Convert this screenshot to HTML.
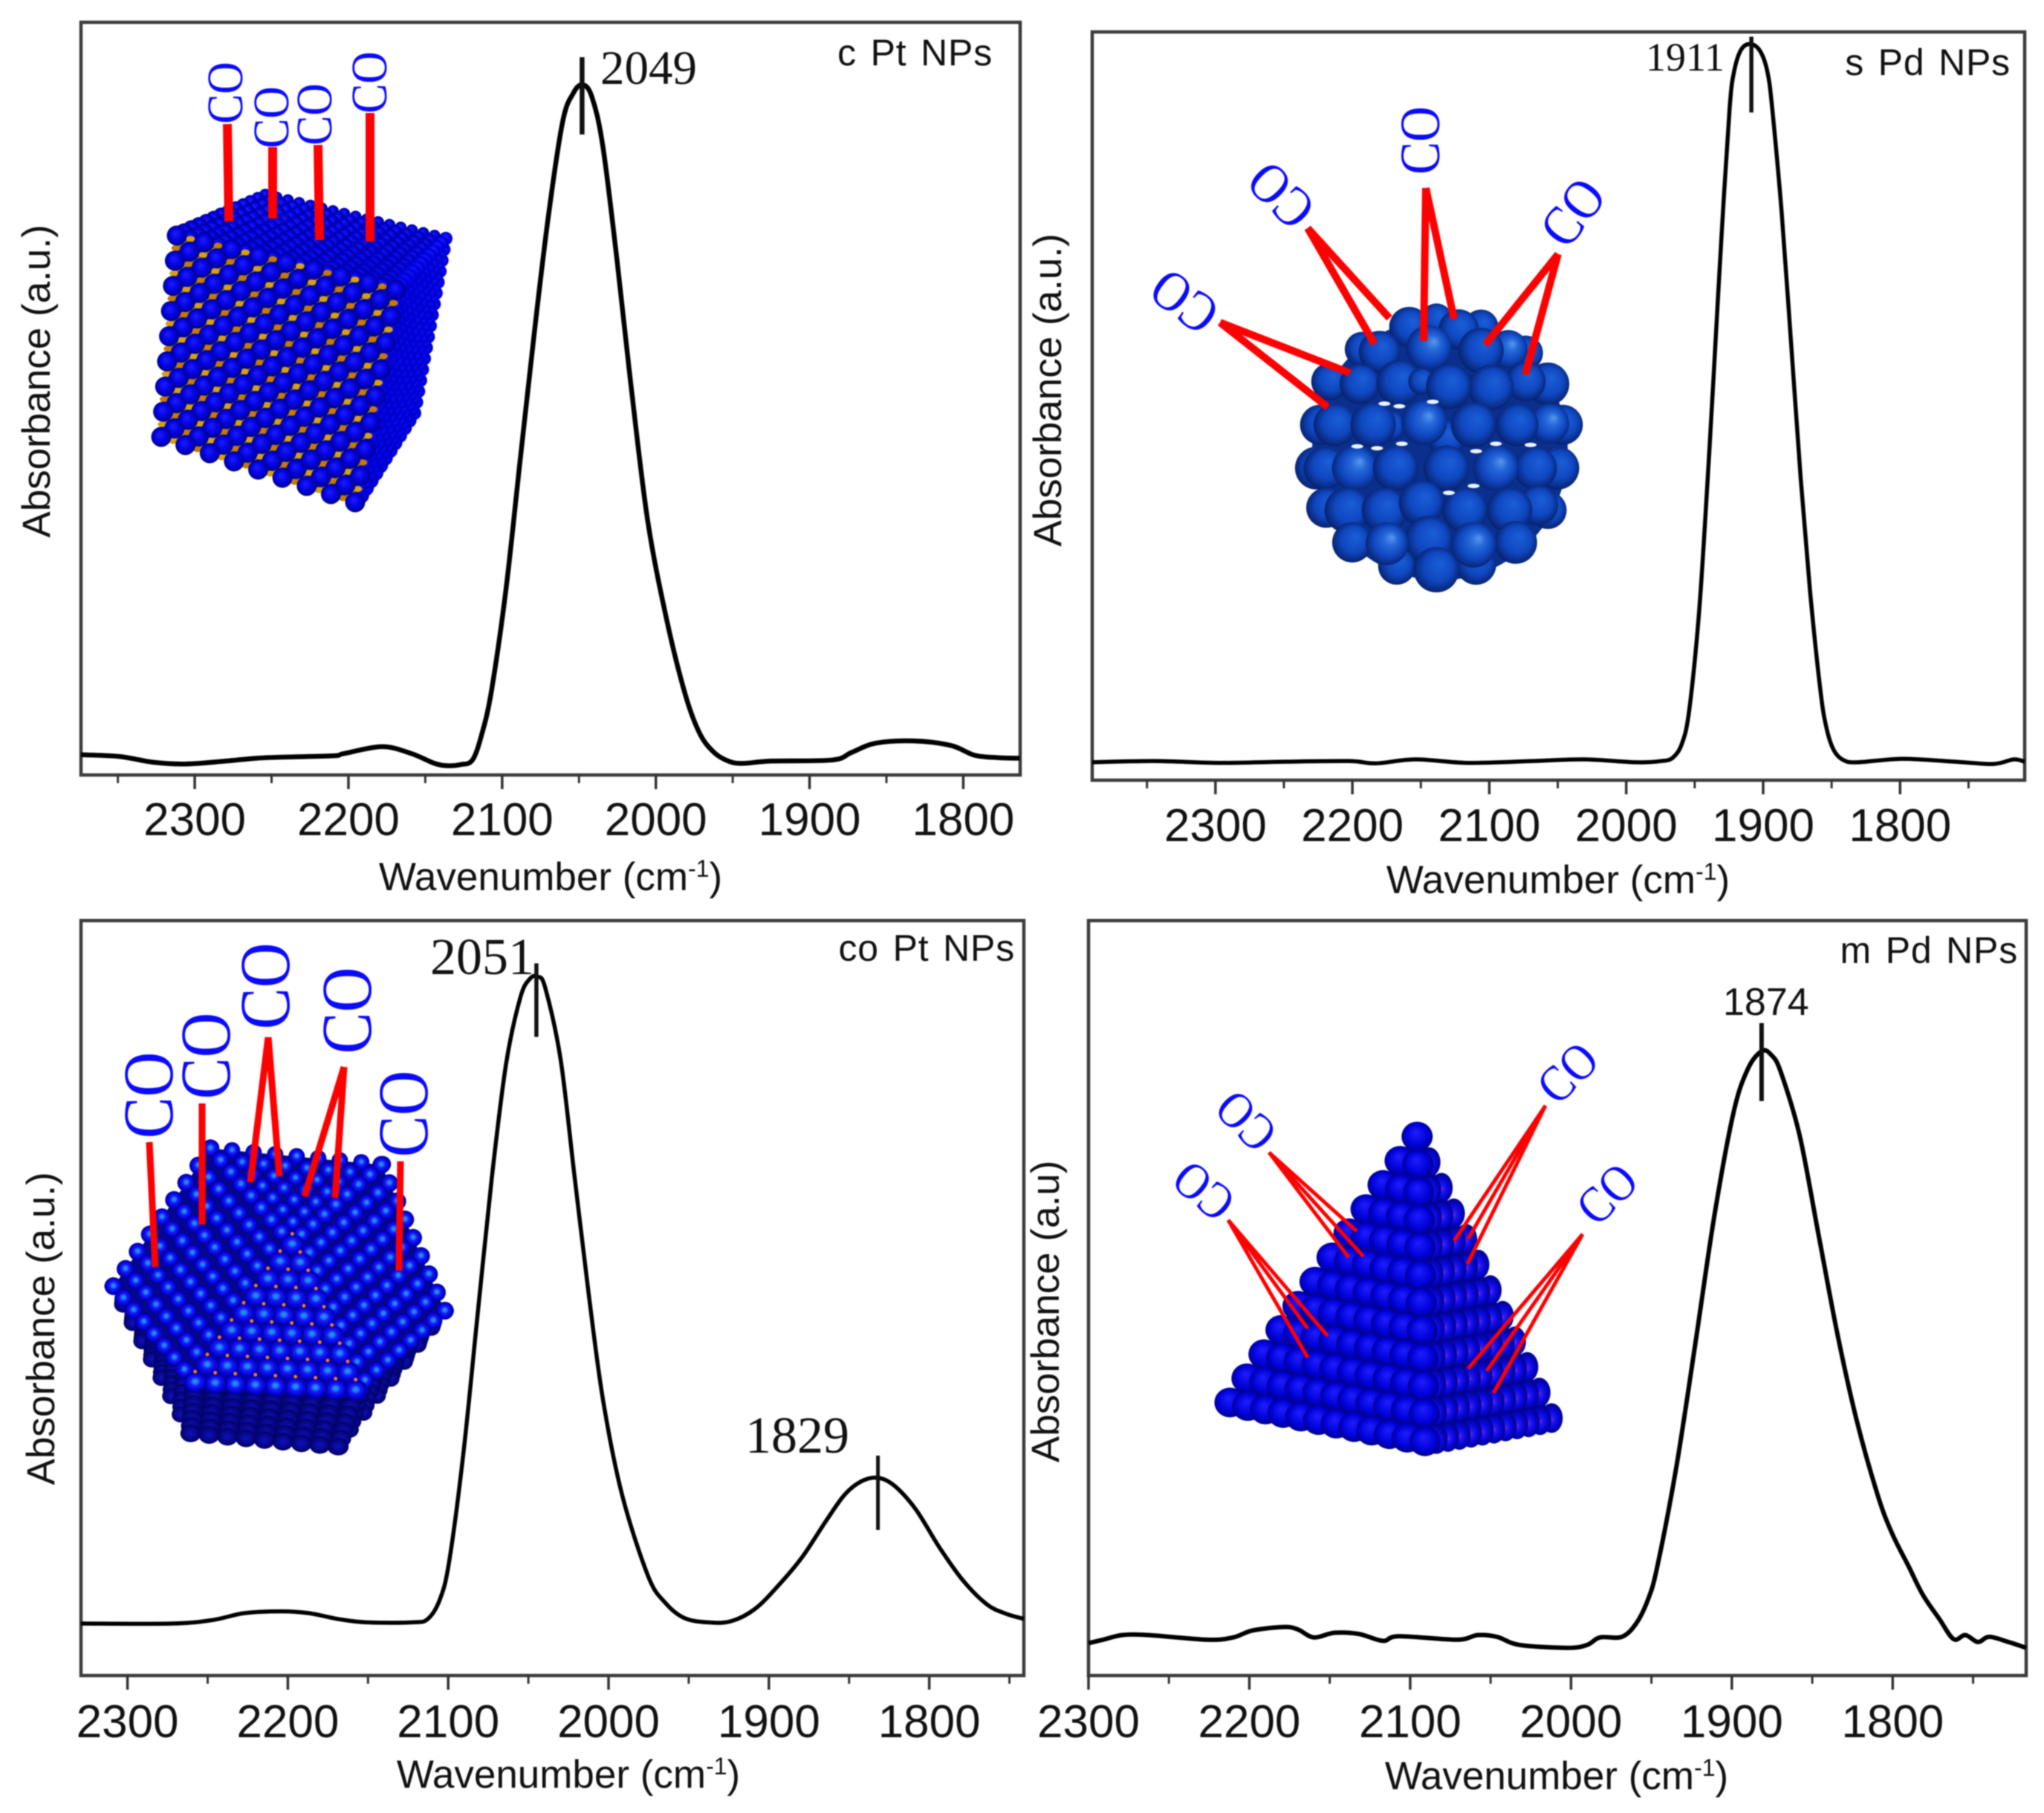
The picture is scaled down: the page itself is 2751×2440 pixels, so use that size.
<!DOCTYPE html>
<html lang="en">
<head>
<meta charset="utf-8">
<title>CO absorbance spectra of Pt and Pd nanoparticles</title>
<style>
html,body{margin:0;padding:0;background:#fff;}
svg{display:block;filter:blur(0.7px);}
.sans{font-family:"Liberation Sans",sans-serif;fill:#111;}
.serif{font-family:"Liberation Serif",serif;fill:#111;}
.co{font-family:"Liberation Serif",serif;fill:#0a0aff;text-anchor:middle;}
.red{stroke:#ff0000;fill:none;}
.ttl{letter-spacing:0.8px;word-spacing:4px;text-anchor:end;font-size:50px;}
</style>
</head>
<body>
<svg id="fig" xmlns="http://www.w3.org/2000/svg" width="2751" height="2440" viewBox="0 0 2751 2440">
<defs>
<radialGradient id="gCube" cx="50%" cy="50%" r="55%" fx="42%" fy="38%"><stop offset="0" stop-color="#1c1cff"/><stop offset=".6" stop-color="#0000dc"/><stop offset="1" stop-color="#00006a"/></radialGradient>
<radialGradient id="gFace" cx="50%" cy="50%" r="55%" fx="42%" fy="38%"><stop offset="0" stop-color="#2424ff"/><stop offset=".7" stop-color="#0000ea"/><stop offset="1" stop-color="#0000a4"/></radialGradient>
<radialGradient id="gPd" cx="50%" cy="50%" r="58%" fx="60%" fy="35%"><stop offset="0" stop-color="#1a5fd8"/><stop offset=".55" stop-color="#0f47c0"/><stop offset=".85" stop-color="#08277a"/><stop offset="1" stop-color="#020a30"/></radialGradient>
<radialGradient id="gPdB" cx="50%" cy="50%" r="58%" fx="62%" fy="35%"><stop offset="0" stop-color="#5a96ee"/><stop offset=".28" stop-color="#2568d8"/><stop offset=".62" stop-color="#0f47c0"/><stop offset=".88" stop-color="#08277a"/><stop offset="1" stop-color="#020a30"/></radialGradient>
<radialGradient id="gOcta" cx="50%" cy="50%" r="55%" fx="50%" fy="45%"><stop offset="0" stop-color="#20a0ff"/><stop offset=".22" stop-color="#1a70ff"/><stop offset=".38" stop-color="#1a1af8"/><stop offset=".75" stop-color="#0000d0"/><stop offset="1" stop-color="#000060"/></radialGradient>
<radialGradient id="gDark" cx="50%" cy="50%" r="55%"><stop offset="0" stop-color="#1010c0"/><stop offset="1" stop-color="#00005e"/></radialGradient>
<radialGradient id="gPyr" cx="50%" cy="50%" r="55%" fx="45%" fy="35%"><stop offset="0" stop-color="#1e1eff"/><stop offset=".65" stop-color="#0000d8"/><stop offset="1" stop-color="#000070"/></radialGradient>
<radialGradient id="gPyrR" cx="50%" cy="50%" r="55%" fx="50%" fy="55%"><stop offset="0" stop-color="#7a28e0"/><stop offset=".18" stop-color="#2a18f0"/><stop offset=".5" stop-color="#0808e0"/><stop offset="1" stop-color="#00007a"/></radialGradient>
</defs>

<g id="panels"></g>

<g id="atoms-a"></g>
<g id="atoms-b"></g>
<g id="atoms-c"></g>
<g id="atoms-d"></g>

<g class="red" stroke-width="12">
<line x1="306" y1="167" x2="308" y2="298"/>
<line x1="367" y1="198" x2="367" y2="294"/>
<line x1="428" y1="195" x2="430" y2="323"/>
<line x1="498" y1="152" x2="498" y2="325"/>
</g>
<g class="red" stroke-width="10">
<line x1="1642" y1="434" x2="1817" y2="502"/>
<line x1="1642" y1="434" x2="1787" y2="548"/>
<line x1="1760" y1="307" x2="1870" y2="428"/>
<line x1="1760" y1="307" x2="1850" y2="463"/>
<line x1="1919" y1="253" x2="1916" y2="459"/>
<line x1="1919" y1="253" x2="1957" y2="429"/>
<line x1="2097" y1="342" x2="1999" y2="464"/>
<line x1="2097" y1="342" x2="2053" y2="504"/>
</g>
<g class="red" stroke-width="9">
<line x1="201" y1="1537" x2="209" y2="1705"/>
<line x1="272" y1="1485" x2="272" y2="1648"/>
<line x1="361" y1="1396" x2="337" y2="1591"/>
<line x1="361" y1="1396" x2="376" y2="1583"/>
<line x1="463" y1="1436" x2="410" y2="1610"/>
<line x1="463" y1="1436" x2="451" y2="1612"/>
<line x1="539" y1="1563" x2="537" y2="1710"/>
</g>
<g class="red" stroke-width="5">
<line x1="1708" y1="1551" x2="1815" y2="1692"/>
<line x1="1708" y1="1551" x2="1835" y2="1691"/>
<line x1="1708" y1="1551" x2="1826" y2="1657"/>
<line x1="1653" y1="1642" x2="1760" y2="1827"/>
<line x1="1653" y1="1642" x2="1760" y2="1788"/>
<line x1="1653" y1="1642" x2="1787" y2="1798"/>
<line x1="2080" y1="1488" x2="1957" y2="1670"/>
<line x1="2080" y1="1488" x2="1976" y2="1667"/>
<line x1="2080" y1="1488" x2="1975" y2="1701"/>
<line x1="2130" y1="1661" x2="1976" y2="1842"/>
<line x1="2130" y1="1661" x2="2001" y2="1845"/>
<line x1="2130" y1="1661" x2="2010" y2="1875"/>
</g>

<g font-size="60">
<text class="co" dy=".33em" transform="translate(303,125) rotate(-90) scale(1,1.15)">CO</text>
<text class="co" dy=".33em" transform="translate(365,158) rotate(-90) scale(1,1.15)">CO</text>
<text class="co" dy=".33em" transform="translate(423,154) rotate(-90) scale(1,1.15)">CO</text>
<text class="co" dy=".33em" transform="translate(497,111) rotate(-90) scale(1,1.15)">CO</text>
</g>
<g font-size="66">
<text class="co" dy=".33em" transform="translate(1594,406) rotate(-143) scale(1,1.15)">CO</text>
<text class="co" dy=".33em" transform="translate(1724,263) rotate(-135) scale(1,1.15)">CO</text>
<text class="co" dy=".33em" transform="translate(1912,189) rotate(-90) scale(1,1.15)">CO</text>
<text class="co" dy=".33em" transform="translate(2117,286) rotate(-53) scale(1,1.15)">CO</text>
</g>
<g font-size="84">
<text class="co" dy=".33em" transform="translate(200,1474) rotate(-90) scale(1,1.15)">CO</text>
<text class="co" dy=".33em" transform="translate(277,1421) rotate(-90) scale(1,1.15)">CO</text>
<text class="co" dy=".33em" transform="translate(357,1327) rotate(-90) scale(1,1.15)">CO</text>
<text class="co" dy=".33em" transform="translate(467,1360) rotate(-90) scale(1,1.15)">CO</text>
<text class="co" dy=".33em" transform="translate(543,1499) rotate(-90) scale(1,1.15)">CO</text>
</g>
<g font-size="60">
<text class="co" dy=".33em" transform="translate(1677,1509) rotate(-135) scale(1,1.15)">CO</text>
<text class="co" dy=".33em" transform="translate(1620,1603) rotate(-140) scale(1,1.15)">CO</text>
<text class="co" dy=".33em" transform="translate(2110,1444) rotate(-45) scale(1,1.15)">CO</text>
<text class="co" dy=".33em" transform="translate(2163,1607) rotate(-45) scale(1,1.15)">CO</text>
</g>

<text class="sans ttl" x="1336" y="88">c Pt NPs</text>
<text class="sans ttl" x="2706" y="101">s Pd NPs</text>
<text class="sans ttl" x="1366" y="1293">co Pt NPs</text>
<text class="sans ttl" x="2716" y="1296">m Pd NPs</text>

<text class="serif" x="808" y="113" font-size="65">2049</text>
<text class="serif" x="2215" y="95" font-size="54">1911</text>
<text class="serif" x="579" y="1311" font-size="70">2051</text>
<text class="serif" x="1003" y="1955" font-size="70">1829</text>
<text class="sans" x="2319" y="1366" font-size="52">1874</text>

<text class="sans" x="741" y="1198" font-size="53" text-anchor="middle">Wavenumber (cm<tspan dy="-18" font-size="32">-1</tspan><tspan dy="18">)</tspan></text>
<text class="sans" x="2097" y="1202" font-size="53" text-anchor="middle">Wavenumber (cm<tspan dy="-18" font-size="32">-1</tspan><tspan dy="18">)</tspan></text>
<text class="sans" x="765" y="2406" font-size="53" text-anchor="middle">Wavenumber (cm<tspan dy="-18" font-size="32">-1</tspan><tspan dy="18">)</tspan></text>
<text class="sans" x="2095" y="2408" font-size="53" text-anchor="middle">Wavenumber (cm<tspan dy="-18" font-size="32">-1</tspan><tspan dy="18">)</tspan></text>

<text class="sans" font-size="53" text-anchor="middle" transform="translate(67,513) rotate(-90)">Absorbance (a.u.)</text>
<text class="sans" font-size="53" text-anchor="middle" transform="translate(1428,525) rotate(-90)">Absorbance (a.u.)</text>
<text class="sans" font-size="53" text-anchor="middle" transform="translate(73,1788) rotate(-90)">Absorbance (a.u.)</text>
<text class="sans" font-size="53" text-anchor="middle" transform="translate(1425,1765) rotate(-90)">Absorbance (a.u)</text>
</svg>

<script>
// ---------- chart data ----------
const wavenumberA = [2374,2349,2327,2306,2280,2254,2211,2203,2178,2159,2144,2135,2127,2119.3,2113.2,2107,2097.7,2088.5,2079.3,2070,2060.7,2054,2047.8,2041.6,2034.5,2025.3,2016,2005.3,1992.9,1980.6,1971.3,1962.1,1952.8,1943.6,1925,1885,1872.7,1857,1832.6,1808,1792.5,1777,1763.3];
const absorbanceA = [3.5,3.2,2.2,1.9,2.4,3.0,3.3,3.7,4.9,3.7,2.0,1.6,1.8,2.6,7.1,14.5,31.7,53.9,76,96.5,112.9,117.8,119.4,117.3,108.8,89.1,67,44,26.8,13.7,7.1,3.9,2.4,2,2.4,2.6,3.9,5.5,5.9,5.1,3.4,3.0,2.9];
const majorTicksA = [2300,2200,2100,2000,1900,1800];
const minorTicksA = [2350,2250,2150,2050,1950,1850];
const tickLabelsA = ['2300','2200','2100','2000','1900','1800'];
const xDomainA = [2374,1763];
const yDomainA = [0,130.2];
const peakMarkA = [2048];
const peakValueA = [119.4];

const wavenumberB = [2390,2344,2297,2249,2202,2183,2154,2116,2069,2031,1993,1974.7,1966,1959.2,1954,1947,1941.1,1935.9,1930.4,1924.5,1921,1915.9,1909,1902,1896.8,1893.4,1886.5,1879.5,1872.6,1865.7,1858.1,1853.6,1848.4,1841.5,1831,1798,1760,1732,1717,1709];
const absorbanceB = [3.1,3.3,3.0,3.2,3.3,2.9,3.6,3.0,3.3,3.6,3.1,3.3,3.9,6.4,12.1,28.5,49.9,71.2,94.2,116.3,122.9,126.5,127.4,126.1,122.5,116.3,98.3,75.3,52.3,32.6,15.4,8.9,5.2,3.5,3.1,3.7,3.2,2.8,3.6,3.2];
const majorTicksB = [2300,2200,2100,2000,1900,1800];
const minorTicksB = [2350,2250,2150,2050,1950,1850,1750];
const tickLabelsB = ['2300','2200','2100','2000','1900','1800'];
const xDomainB = [2390,1709];
const yDomainB = [0,129.5];
const peakMarkB = [1908.6];
const peakValueB = [127.4];

const wavenumberC = [2329,2272,2247,2227,2204,2187,2169,2151,2122,2112.7,2105.3,2099.4,2090.5,2081.7,2072.8,2063.9,2055.1,2049.2,2044.1,2039.4,2029.9,2021.1,2012.2,2003.4,1991.5,1975.3,1965,1953.1,1938.3,1923.6,1908.8,1894,1879.2,1864.5,1852.7,1842.3,1832,1821.6,1808.3,1793.5,1778.8,1764,1752.2,1741];
const absorbanceC = [9,9,9.6,10.8,11.1,10.8,9.8,9.2,9.2,9.8,13.1,19.7,38.5,62.3,86.1,105.8,117.2,120.5,120.9,118.9,106.6,86.1,65.6,47.6,31.2,17.2,12.7,10,9.2,9.4,11.5,15.6,20.5,26.7,31.3,33.6,34.2,32.8,28.7,22.1,16.4,12.3,10.7,9.8];
const majorTicksC = [2300,2200,2100,2000,1900,1800];
const minorTicksC = [2250,2150,2050,1950,1850,1750];
const tickLabelsC = ['2300','2200','2100','2000','1900','1800'];
const xDomainC = [2329,1741];
const yDomainC = [0,130.6];
const peakMarkC = [2045,1832];
const peakValueC = [120.9,34.2];

const wavenumberD = [2300,2291,2279,2263,2226,2210,2198,2179,2170,2160,2147,2132,2117,2107,2071,2058,2046,2032,2002,1990,1982,1968.4,1959.5,1952.2,1946.3,1934.5,1922.7,1910.9,1899.1,1890.3,1881.5,1875.6,1869.7,1857.9,1846.1,1834.3,1822.5,1809.3,1800.4,1790.1,1781.3,1771,1762.1,1754.8,1747,1740,1728,1717];
const absorbanceD = [5.6,6.2,7,7,6.2,6.6,7.8,8.4,8,6.6,7.4,7.2,6,6.8,6.2,7,6.7,5.3,4.8,5.3,6.6,6.7,9,13.1,18.9,36.1,57.4,79.5,97.2,104.8,108,107.4,104.5,93.5,76.3,59,44.3,31.2,24.6,18.9,14,9.8,6.3,7,5.8,6.7,5.8,4.8];
const majorTicksD = [2300,2200,2100,2000,1900,1800];
const minorTicksD = [2250,2150,2050,1950,1850,1750];
const tickLabelsD = ['2300','2200','2100','2000','1900','1800'];
const xDomainD = [2300,1717];
const yDomainD = [0,130.6];
const peakMarkD = [1881.5];
const peakValueD = [108];

// ---------- helpers ----------
const NS = 'http://www.w3.org/2000/svg';
function make(tag, parent, attrs) {
  const el = document.createElementNS(NS, tag);
  for (const k in attrs) el.setAttribute(k, attrs[k]);
  parent.appendChild(el);
  return el;
}
function smoothPath(pts) {
  let d = 'M' + pts[0][0].toFixed(1) + ' ' + pts[0][1].toFixed(1);
  for (let i = 0; i < pts.length - 1; i++) {
    const p0 = pts[Math.max(0, i - 1)], p1 = pts[i], p2 = pts[i + 1], p3 = pts[Math.min(pts.length - 1, i + 2)];
    const c1x = p1[0] + (p2[0] - p0[0]) / 6, c1y = p1[1] + (p2[1] - p0[1]) / 6;
    const c2x = p2[0] - (p3[0] - p1[0]) / 6, c2y = p2[1] - (p3[1] - p1[1]) / 6;
    d += 'C' + c1x.toFixed(1) + ' ' + c1y.toFixed(1) + ' ' + c2x.toFixed(1) + ' ' + c2y.toFixed(1) + ' ' + p2[0].toFixed(1) + ' ' + p2[1].toFixed(1);
  }
  return d;
}
function drawPanel(id, box, xDomain, yDomain, wn, abs, major, minor, labels, marks, markValues, markOffsets, lineW, labelBase, labelSize) {
  const root = document.getElementById('panels');
  const g = make('g', root, {});
  
  
  const xAt = v => box.x0 + (xDomain[0] - v) / (xDomain[0] - xDomain[1]) * (box.x1 - box.x0);
  const yAt = v => box.y1 - (v - yDomain[0]) / (yDomain[1] - yDomain[0]) * (box.y1 - box.y0);

  const frame = make('rect', g, {x: box.x0, y: box.y0, width: box.x1 - box.x0, height: box.y1 - box.y0, fill: 'none', stroke: '#3c3c3c', 'stroke-width': 4.5});
  
  

  major.forEach((t, i) => {
    const tick = make('line', g, {x1: xAt(t), x2: xAt(t), y1: box.y1, y2: box.y1 + 19, stroke: '#333', 'stroke-width': 3.5});
    
    
    const label = make('text', g, {x: xAt(t), y: labelBase, 'text-anchor': 'middle', 'font-size': labelSize, class: 'sans'});
    label.textContent = labels[i];
    
    
  });
  minor.forEach(t => {
    const tick = make('line', g, {x1: xAt(t), x2: xAt(t), y1: box.y1, y2: box.y1 + 11, stroke: '#333', 'stroke-width': 3});
    
    
  });

  const pts = wn.map((w, i) => [xAt(w), yAt(abs[i])]);
  const curve = make('path', g, {d: smoothPath(pts), fill: 'none', stroke: '#000', 'stroke-width': lineW, 'stroke-linejoin': 'round'});
  
  

  marks.forEach((m, i) => {
    const mark = make('line', g, {x1: xAt(m), x2: xAt(m), y1: yAt(markValues[i]) + markOffsets[i][0], y2: yAt(markValues[i]) + markOffsets[i][1], stroke: '#111', 'stroke-width': markOffsets[i][2]});
    
    
  });
}

drawPanel('c-pt', {x0: 109, y0: 30, x1: 1373, y1: 1043}, xDomainA, yDomainA, wavenumberA, absorbanceA, majorTicksA, minorTicksA, tickLabelsA, peakMarkA, peakValueA, [[-37, 67, 6.5]], 6.5, 1124, 62);
drawPanel('s-pd', {x0: 1470, y0: 43, x1: 2725, y1: 1050}, xDomainB, yDomainB, wavenumberB, absorbanceB, majorTicksB, minorTicksB, tickLabelsB, peakMarkB, peakValueB, [[-10, 92, 5.5]], 5.5, 1132, 62);
drawPanel('co-pt', {x0: 109, y0: 1239, x1: 1378, y1: 2255}, xDomainC, yDomainC, wavenumberC, absorbanceC, majorTicksC, minorTicksC, tickLabelsC, peakMarkC, peakValueC, [[-18, 81, 5.5], [-30, 70, 5]], 5.5, 2338, 62);
drawPanel('m-pd', {x0: 1465, y0: 1239, x1: 2727, y1: 2255}, xDomainD, yDomainD, wavenumberD, absorbanceD, majorTicksD, minorTicksD, tickLabelsD, peakMarkD, peakValueD, [[-38, 67, 6]], 6, 2338, 62);

// ---------- nanoparticle illustrations ----------
function ball(parent, x, y, rx, ry, fill) {
  const el = make('ellipse', parent, {cx: x.toFixed(1), cy: y.toFixed(1), rx: rx, ry: ry, fill: 'url(#' + fill + ')'});
  
  
}
function spot(parent, x, y, rx, ry, fill) {
  const el = make('ellipse', parent, {cx: x.toFixed(1), cy: y.toFixed(1), rx: rx, ry: ry, fill: fill});
  
  
}
const bil = (a, b, c, d, s, t) => [
  (a[0] * (1 - s) + b[0] * s) * (1 - t) + (d[0] * (1 - s) + c[0] * s) * t,
  (a[1] * (1 - s) + b[1] * s) * (1 - t) + (d[1] * (1 - s) + c[1] * s) * t
];

(function cube() {
  const g = document.getElementById('atoms-a');
  const TL = [238, 317], TR = [533, 390], RB = [600, 321], BK = [357, 262], BL = [217, 588], BR = [478, 676], RBB = [558, 556];
  for (let j = 12; j >= 0; j--) {
    for (let i = 0; i <= 16; i++) {
      const p = bil(TL, TR, RB, BK, i / 16, j / 12);
      ball(g, p[0], p[1], 8 + (12 - j) * 0.35, 8 + (12 - j) * 0.35, 'gCube');
    }
  }
  for (let s = 12; s >= 0; s--) {
    for (let t = 0; t <= 16; t++) {
      const p = bil(TR, RB, RBB, BR, s / 12, t / 16);
      ball(g, p[0], p[1], 9 + (12 - s) * 0.3, 9 + (12 - s) * 0.3, 'gFace');
    }
  }
  const bg = make('polygon', g, {points: [TL, TR, BR, BL].map(p => p.join(',')).join(' '), fill: '#1a1a80'});
  
  
  for (let c = 0; c < 16; c++) {
    const v = c + .5;
    const s0 = Math.max(0, v - 8), s1 = Math.min(8, v);
    const a = bil(TL, TR, BR, BL, s0 / 8, (v - s0) / 8), b = bil(TL, TR, BR, BL, s1 / 8, (v - s1) / 8);
    const bond = make('line', g, {x1: a[0], y1: a[1], x2: b[0], y2: b[1], stroke: '#8a7a30', 'stroke-width': 2.5});
    
    
  }
  for (let i = 0; i <= 8; i++) {
    for (let j = 0; j <= 8; j++) {
      if (i < 8) { const p = bil(TL, TR, BR, BL, (i + .5) / 8, j / 8); spot(g, p[0], p[1], 6, 4, (i + j) % 2 ? '#c87a00' : '#d8a010'); }
      if (j < 8) { const p = bil(TL, TR, BR, BL, i / 8, (j + .5) / 8); spot(g, p[0], p[1], 6, 4, (i + j) % 2 ? '#d8a010' : '#c87a00'); }
    }
  }
  for (let j = 0; j <= 8; j++) {
    for (let i = 0; i <= 8; i++) {
      const p = bil(TL, TR, BR, BL, i / 8, j / 8);
      ball(g, p[0], p[1], 13.5, 13.5, 'gCube');
      if (i < 8 && j < 8) {
        const c = bil(TL, TR, BR, BL, (i + .5) / 8, (j + .5) / 8);
        ball(g, c[0], c[1], 13.5, 13.5, 'gCube');
      }
    }
  }
})();

(function sphere() {
  const g = document.getElementById('atoms-b');
  const backing = make('ellipse', g, {cx: 1938, cy: 605, rx: 172, ry: 176, fill: '#0b2f8c'});
  
  
  const cluster = [[530,120,75],[640,90,60],[820,120,65],[730,130,75],[340,210,65],[410,220,78],[1000,225,65],[930,210,72,1],[610,205,85,1],[820,215,85],[210,340,70],[330,350,75],[490,345,85],[580,340,50],[1090,350,80],[1000,340,75],[860,365,85],[690,360,85],[170,515,75],[230,515,80],[450,520,60],[385,515,85],[1150,515,75],[1095,510,75,1],[965,515,80],[680,570,70],[790,515,85],[590,505,85,1],[155,690,80],[190,690,80],[1130,690,80],[310,690,85,1],[475,690,85],[1040,690,80],[880,690,85,1],[680,690,85],[195,850,75],[1090,860,70],[1050,840,75],[280,860,85],[430,860,85],[580,830,85],[755,860,85],[935,860,85],[300,990,75],[960,990,80],[610,980,90],[480,1085,70],[800,1080,75],[640,1100,85],[440,995,80,1],[790,1000,85,1]];
  cluster.forEach(c => {
    const r = (c[2] * 1.08 / 3).toFixed(1);
    ball(g, 1720 + c[0] / 3, 400 + c[1] / 3, r, r, c[3] ? 'gPdB' : 'gPd');
  });
  const gaps = [[400,610],[500,592],[800,622],[880,592],[1020,596],[320,602],[430,430],[490,440],[625,422],[790,762],[690,790]];
  gaps.forEach(c => spot(g, 1720 + c[0] / 3, 400 + c[1] / 3, 8, 3, '#e8f4ff'));
})();

(function cubocta() {
  const g = document.getElementById('atoms-c');
  const M = (x, y) => [140 + x / 3, 1260 + 0.446 * y];
  const draw = (x, y, rx, ry, f) => { const p = M(x, y); ball(g, p[0], p[1], rx, ry, f); };
  const A = [430, 640], B = [1120, 690], C = [760, 930];
  const e1 = [41, 36], e2 = [46, -30], dL = [-49, 52], dR = [32, 55];
  const backing = make('polygon', g, {points: [[40,1055],[430,640],[1120,690],[1376,1130],[970,1530],[350,1500]].map(p => M(p[0], p[1]).join(',')).join(' '), fill: '#06068c'});
  
  
  // lower skirt
  for (let j = 0; j <= 8; j++) {
    const x = A[0] + 8 * dL[0] + j * e1[0], y = A[1] + 8 * dL[1] + j * e1[1];
    const dx = -18 * j / 8, dy = 154 * j / 8;
    for (let k = 0; k <= 6; k++) draw(x + dx * k / 6, y + dy * k / 6, 12, 11, 'gDark');
  }
  for (let j = 0; j <= 8; j++) {
    const x = B[0] + 8 * dR[0] - j * e2[0], y = B[1] + 8 * dR[1] - j * e2[1];
    const dx = -70 * j / 8, dy = 170 * j / 8;
    for (let k = 0; k <= 6; k++) draw(x + dx * k / 6, y + dy * k / 6, 12, 11, 'gDark');
  }
  for (let i = 0; i <= 8; i++) {
    const x = C[0] + i * dL[0] + (8 - i) * dR[0], y = C[1] + i * dL[1] + (8 - i) * dR[1];
    const tt = (8 - i) / 8;
    for (let k = 0; k <= 7; k++) draw(x + (-18 - 52 * tt) * k / 7, y + (154 + 16 * tt) * k / 7, 14, 12, 'gDark');
  }
  // top triangle
  for (let i = 0; i <= 8; i++) {
    for (let j = 0; j <= i; j++) draw(A[0] + i * e1[0] + j * e2[0], A[1] + i * e1[1] + j * e2[1], 11, 11, 'gOcta');
  }
  // left facet
  for (let i = 0; i <= 8; i++) {
    for (let j = 0; j <= 8; j++) {
      if (j < 8) { const p = M(A[0] + i * dL[0] + (j + .5) * e1[0], A[1] + i * dL[1] + (j + .5) * e1[1] + 14); spot(g, p[0], p[1], 2, 2, '#e06a20'); }
      draw(A[0] + i * dL[0] + j * e1[0], A[1] + i * dL[1] + j * e1[1], 12, 12, 'gOcta');
    }
  }
  // right facet
  for (let i = 0; i <= 8; i++) {
    for (let j = 0; j <= 8; j++) {
      if (j < 8) { const p = M(B[0] + i * dR[0] - (j + .5) * e2[0], B[1] + i * dR[1] - (j + .5) * e2[1] + 14); spot(g, p[0], p[1], 2, 2, '#e06a20'); }
      draw(B[0] + i * dR[0] - j * e2[0], B[1] + i * dR[1] - j * e2[1], 12, 12, 'gOcta');
    }
  }
  // centre triangle
  for (let s = 0; s <= 8; s++) {
    for (let i = 0; i <= s; i++) {
      const j = s - i;
      draw(C[0] + i * dL[0] + j * dR[0], C[1] + i * dL[1] + j * dR[1], 16, 14, 'gOcta');
    }
  }
  for (let s = 0; s <= 8; s++) {
    for (let i = 0; i <= s; i++) {
      const j = s - i;
      const p = M(C[0] + i * dL[0] + j * dR[0], C[1] + i * dL[1] + j * dR[1] - 32);
      spot(g, p[0], p[1], 2.5, 2.5, '#f07a20');
    }
  }
})();

(function pyramid() {
  const g = document.getElementById('atoms-d');
  const M = (x, y) => [1380 + 0.8744 * x, 1220 + 0.778 * y];
  const apex = [603, 398], vL = [-288, 460], vV = [12, 527], vR = [207, 487];
  const corners = [apex, [apex[0] + vL[0], apex[1] + vL[1]], [apex[0] + vV[0], apex[1] + vV[1]], [apex[0] + vR[0], apex[1] + vR[1]]];
  const backing = make('polygon', g, {points: corners.map(p => M(p[0], p[1]).join(',')).join(' '), fill: '#00008c'});
  
  
  for (let L = 0; L <= 11; L++) {
    const t = L / 11;
    const left = [apex[0] + t * vL[0], apex[1] + t * vL[1]];
    const vert = [apex[0] + t * vV[0], apex[1] + t * vV[1]];
    const right = [apex[0] + t * vR[0], apex[1] + t * vR[1]];
    for (let k = 0; k < L; k++) {
      const f = k / L;
      const p = M(right[0] + (vert[0] - right[0]) * f, right[1] + (vert[1] - right[1]) * f);
      ball(g, p[0], p[1], 15, 20, 'gPyrR');
    }
    for (let k = 0; k < L; k++) {
      const f = k / L;
      const p = M(left[0] + (vert[0] - left[0]) * f, left[1] + (vert[1] - left[1]) * f);
      ball(g, p[0], p[1], 21, 20, 'gPyr');
    }
    const p = M(vert[0], vert[1]);
    ball(g, p[0], p[1], 21, 20, 'gPyr');
  }
})();
</script>
</body>
</html>
